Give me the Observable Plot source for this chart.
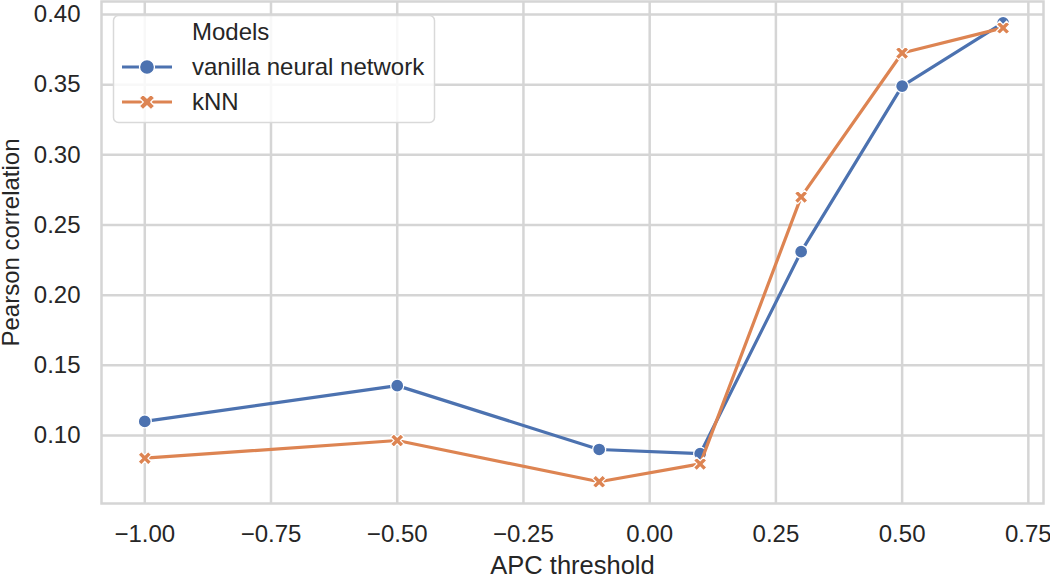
<!DOCTYPE html>
<html>
<head>
<meta charset="utf-8">
<script src="https://cdn.jsdelivr.net/npm/d3@7"></script>
<script src="https://cdn.jsdelivr.net/npm/@observablehq/plot@0.6"></script>
<style>
  html, body { margin: 0; padding: 0; background: #fff; }
  #wrap { position: relative; width: 1050px; height: 574px; font-family: "Liberation Sans", Arial, sans-serif; }
  #legend { position: absolute; left: 0; top: 0; pointer-events: none; }
</style>
</head>
<body>
<div id="wrap"></div>
<script>
// ---- data ----
const thresholds = [-1.0, -0.5, -0.1, 0.1, 0.3, 0.5, 0.7];
const vanillaNN = [0.110, 0.1355, 0.090, 0.087, 0.231, 0.349, 0.394];
const kNN = [0.0838, 0.0964, 0.067, 0.0797, 0.270, 0.3726, 0.3905];
const seriesNames = ["vanilla neural network", "kNN"];
const seriesColors = ["#4c72b0", "#dd8452"];
const xTicks = [-1.0, -0.75, -0.5, -0.25, 0.0, 0.25, 0.5, 0.75];
const yTicks = [0.10, 0.15, 0.20, 0.25, 0.30, 0.35, 0.40];

const rows = [];
thresholds.forEach((t, i) => {
  rows.push({x: t, y: vanillaNN[i], model: seriesNames[0]});
});
thresholds.forEach((t, i) => {
  rows.push({x: t, y: kNN[i], model: seriesNames[1]});
});

// filled "X" marker like matplotlib's 'X'
const filledX = {
  draw(ctx, size) {
    const r = Math.sqrt(size) * 0.62;
    const w = r * 0.32;
    const pts = [];
    for (let k = 0; k < 4; k++) {
      const a = Math.PI / 4 + k * Math.PI / 2;
      const ca = Math.cos(a), sa = Math.sin(a);
      const px = -sa, py = ca;
      pts.push([r * ca - w * px, r * sa - w * py]);
      pts.push([r * ca + w * px, r * sa + w * py]);
      const b = a + Math.PI / 4;
      pts.push([Math.SQRT2 * w * Math.cos(b), Math.SQRT2 * w * Math.sin(b)]);
    }
    ctx.moveTo(pts[0][0], pts[0][1]);
    for (let k = 1; k < pts.length; k++) ctx.lineTo(pts[k][0], pts[k][1]);
    ctx.closePath();
  }
};

const fmt = d3.format(".2f");
const gridColor = "#d5d5d5";

const marks = [
  Plot.gridX(xTicks, {stroke: gridColor, strokeOpacity: 1, strokeWidth: 2.5}),
  Plot.gridY(yTicks, {stroke: gridColor, strokeOpacity: 1, strokeWidth: 2.5}),
  Plot.frame({stroke: gridColor, strokeWidth: 2.5}),
  Plot.axisX(xTicks, {tickSize: 0, tickPadding: 21, fontSize: 24, tickFormat: fmt,
    label: "APC threshold", labelAnchor: "center", labelArrow: "none", labelOffset: 70}),
  Plot.axisY(yTicks, {tickSize: 0, tickPadding: 21, fontSize: 24, tickFormat: fmt,
    label: "Pearson correlation", labelAnchor: "center", labelArrow: "none", labelOffset: 100})
];
seriesNames.forEach((name, i) => {
  const data = rows.filter(d => d.model === name);
  marks.push(Plot.line(data, {x: "x", y: "y", stroke: seriesColors[i], strokeWidth: 3.2}));
  if (i === 0) {
    marks.push(Plot.dot(data, {x: "x", y: "y", r: 6.5, symbol: "circle", fill: seriesColors[i], stroke: "white", strokeWidth: 1.3}));
  } else {
    marks.push(Plot.dot(data, {x: "x", y: "y", r: 6.5, symbol: filledX, fill: seriesColors[i], stroke: "white", strokeWidth: 1.2}));
  }
});

const chart = Plot.plot({
  width: 1050,
  height: 574,
  marginLeft: 101,
  marginRight: 7,
  marginTop: 1,
  marginBottom: 71,
  style: {fontFamily: '"Liberation Sans", Arial, sans-serif', fontSize: "24px", color: "#262626", background: "#fff"},
  x: {domain: [-1.0857, 0.780]},
  y: {domain: [0.0515, 0.4093]},
  marks
});
document.getElementById("wrap").appendChild(chart);

// axis label tweaks
d3.select(chart).selectAll('[aria-label="x-axis label"]').attr("font-size", 25.5);
d3.select(chart).selectAll('[aria-label="y-axis label"]').each(function() {
  const t = this.getAttribute("transform") || "";
  this.setAttribute("transform", "translate(0,-10) " + t);
});

// ---- legend overlay ----
const ns = "http://www.w3.org/2000/svg";
const leg = document.createElementNS(ns, "svg");
leg.setAttribute("id", "legend");
leg.setAttribute("width", 1050);
leg.setAttribute("height", 574);
leg.innerHTML = `
  <rect x="113.5" y="15.5" width="321" height="107" rx="5" ry="5" fill="rgba(255,255,255,0.82)" stroke="#d9d9d9" stroke-width="1.5"/>
  <text x="192" y="40" font-size="24" fill="#262626" font-family="Liberation Sans, Arial, sans-serif">Models</text>
`;
const entryY = [67, 102];
const entryBase = [75, 110];
seriesNames.forEach((name, i) => {
  const g = document.createElementNS(ns, "g");
  let sym;
  if (i === 0) {
    sym = `<circle cx="147" cy="${entryY[i]}" r="7.5" fill="${seriesColors[i]}" stroke="white" stroke-width="1.3"/>`;
  } else {
    const p = d3.path();
    filledX.draw(p, 7.5 * 7.5 * Math.PI);
    sym = `<path transform="translate(147,${entryY[i]})" d="${p.toString()}" fill="${seriesColors[i]}" stroke="white" stroke-width="1.2"/>`;
  }
  g.innerHTML = `
    <line x1="122" x2="172" y1="${entryY[i]}" y2="${entryY[i]}" stroke="${seriesColors[i]}" stroke-width="3.2"/>
    ${sym}
    <text x="192" y="${entryBase[i]}" font-size="24" fill="#262626" font-family="Liberation Sans, Arial, sans-serif">${name}</text>`;
  leg.appendChild(g);
});
document.getElementById("wrap").appendChild(leg);
</script>
</body>
</html>
